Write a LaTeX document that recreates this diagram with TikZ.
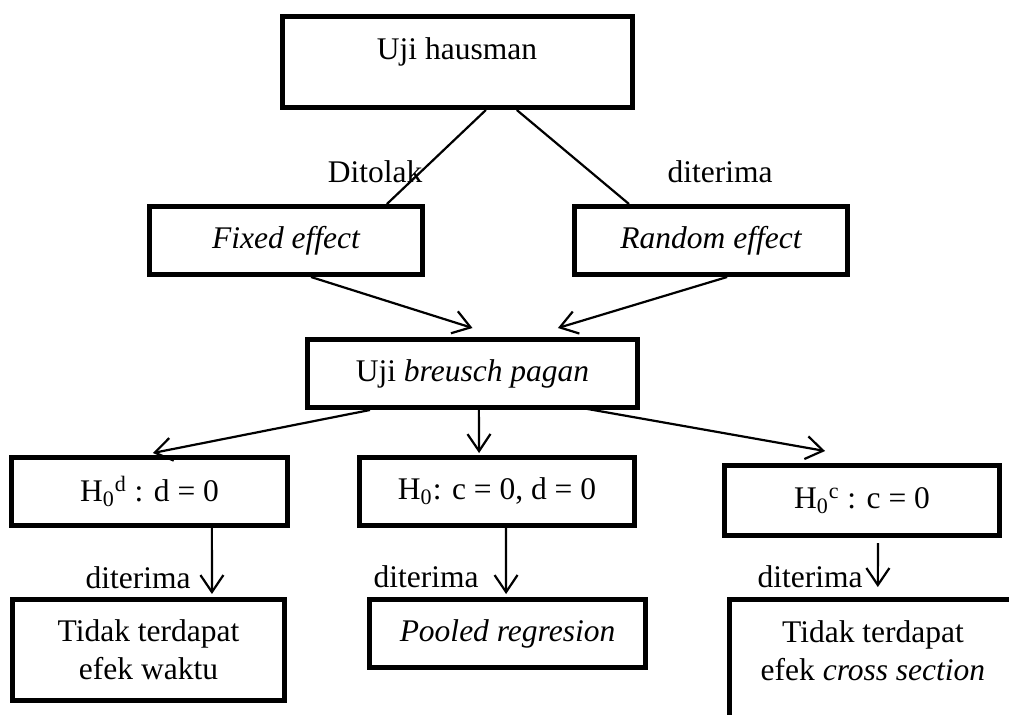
\documentclass[tikz,border=0pt]{standalone}
\usepackage{fontspec}
\setmainfont{Liberation Serif}
\usetikzlibrary{arrows.meta,calc}
\tikzset{
  box/.style={draw, line width=2.4pt, inner sep=0pt, align=center, font=\fontsize{15.75}{19}\selectfont},
  sz/.style 2 args={minimum width=#1*0.5pt-2.4pt, minimum height=#2*0.5pt-2.4pt},
  lbl/.style={inner sep=0pt, align=center, font=\fontsize{15.75}{19}\selectfont},
  conn/.style={line width=1.1pt},
  arr/.style={line width=1.1pt, -{Straight Barb[length=8.5pt,width=11.5pt]}}
}
\begin{document}
\begin{tikzpicture}[x=0.5pt,y=-0.5pt]
\useasboundingbox (0,0) rectangle (1009,714);
\clip (0,0) rectangle (1009,714);

% boxes
\node[box, sz={355}{96}] (haus) at (457.5,62) {};
\node[lbl] (haustext) at (457,52) {Uji hausman};
\node[box, sz={278}{73}] (fixed) at (286,240.5) {\itshape Fixed effect};
\node[box, sz={278}{73}] (random) at (711,240.5) {\itshape Random effect};
\node[box, sz={335}{73}] (breusch) at (472.5,373.5) {Uji \textit{breusch pagan}};
\node[box, sz={281}{73}] (h0d) at (149.5,491.5) {H\textsubscript{0}\textsuperscript{d} : d = 0};
\node[box, sz={280}{73}] (h0) at (497,491.5) {H\textsubscript{0}: c = 0, d = 0};
\node[box, sz={280}{75}] (h0c) at (862,500.5) {H\textsubscript{0}\textsuperscript{c} : c = 0};
\node[box, sz={277}{106}] (waktu) at (148.5,650) {Tidak terdapat\\efek waktu};
\node[box, sz={281}{73}] (pooled) at (507.5,633.5) {\itshape Pooled regresion};
\node[box, sz={323}{183}] (cross) at (888.5,688.5) {};
\node[lbl] (crosstext) at (873,651) {Tidak terdapat\\efek \textit{cross section}};

% labels
\node[lbl] (ditolak) at (375,172) {Ditolak};
\node[lbl] (diterimaA) at (720,172) {diterima};
\node[lbl] (diterimaB) at (138,578) {diterima};
\node[lbl] (diterimaC) at (426,577) {diterima};
\node[lbl] (diterimaD) at (810,577) {diterima};

% connectors
\draw[conn] ($(haus.south west)!0.58!(haus.south east)$) -- ($(fixed.north west)!0.863!(fixed.north east)$);
\draw[conn] ($(haus.south west)!0.667!(haus.south east)$) -- ($(random.north west)!0.205!(random.north east)$);
\draw[arr] ($(fixed.south west)!0.59!(fixed.south east)$) -- ($(breusch.north west)!0.5!(breusch.north east)+(0,-9)$);
\draw[arr] ($(random.south west)!0.558!(random.south east)$) -- ($(breusch.north west)!0.755!(breusch.north east)+(0,-9)$);
\draw[arr] ($(breusch.south west)!0.194!(breusch.south east)$) -- ($(h0d.north west)!0.512!(h0d.north east)+(0,-2)$);
\draw[arr] ($(breusch.south west)!0.519!(breusch.south east)$) -- ($(h0.north west)!0.436!(h0.north east)+(0,-2)$);
\draw[arr] ($(breusch.south west)!0.81!(breusch.south east)+(0,-3)$) -- ($(h0c.north west)!0.368!(h0c.north east)+(0,-12)$);
\draw[arr] ($(h0d.south west)!0.722!(h0d.south east)$) -- ($(waktu.north west)!0.729!(waktu.north east)+(0,-3)$);
\draw[arr] ($(h0.south west)!0.532!(h0.south east)$) -- ($(pooled.north west)!0.495!(pooled.north east)+(0,-3)$);
\draw[arr] ($(h0c.south west)!0.557!(h0c.south east)+(0,5)$) -- ($(cross.north west)!0.467!(cross.north east)+(0,-10)$);
\end{tikzpicture}
\end{document}
